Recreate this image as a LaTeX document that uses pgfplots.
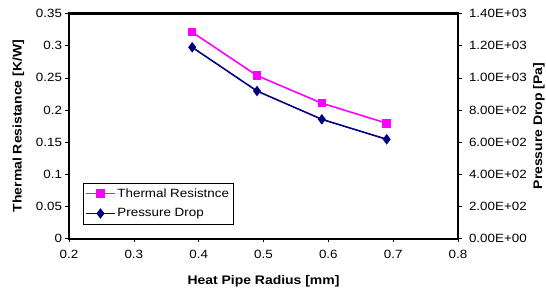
\documentclass[border=0pt]{standalone}
\usepackage{pgfplots}
\pgfplotsset{compat=1.18}
\usepackage{fontspec}
\setmainfont[FakeStretch=1.12]{Liberation Sans}
\definecolor{pinkc}{RGB}{255,0,255}
\definecolor{navyc}{RGB}{0,0,128}
\begin{document}
\begin{tikzpicture}
\pgfplotsset{
  every axis/.append style={
    scale only axis, width=389bp, height=225.2bp,
    font=\fontsize{12}{14}\selectfont,
    tick align=outside, major tick length=3.5bp,
    tick style={line width=0.6bp, black},
    axis line style={line width=2.2bp, black},
    xmin=0.2, xmax=0.8,
  },
  /pgfplots/legend image code/.code={\draw[mark repeat=2,mark phase=2,#1] plot coordinates {(0cm,0cm)(0.5cm,0cm)(1.0cm,0cm)};}
}
\begin{axis}[name=ax,
  ymin=0, ymax=0.35,
  xtick={0.2,0.3,0.4,0.5,0.6,0.7,0.8},
  xticklabels={0.2,0.3,0.4,0.5,0.6,0.7,0.8},
  ytick={0,0.05,0.1,0.15,0.2,0.25,0.3,0.35},
  yticklabels={0,0.05,0.1,0.15,0.2,0.25,0.3,0.35},
  xticklabel style={yshift=-4bp},
  xtick pos=bottom, ytick pos=left,
  xlabel={\fontsize{12.5}{14}\selectfont\bfseries Heat Pipe Radius [mm]},
  ylabel={\fontsize{12.5}{14}\selectfont\bfseries Thermal Resistance [K/W]},
  xlabel style={at={(axis description cs:0.5,0)}, anchor=center, yshift=-42.3bp},
  ylabel style={at={(axis description cs:-0.1298,0.5)}, anchor=center},
  legend style={at={(axis description cs:0.0352,0.2487)}, anchor=north west,
    draw=black, line width=0.6bp, font=\fontsize{12}{14}\selectfont,
    row sep=6bp, inner xsep=2.5bp, inner ysep=3.5bp},
  legend cell align=left,
]
\addplot[pinkc, line width=1.6bp, mark=square*, mark size=3.5bp, mark options={solid}]
  coordinates {(0.39,0.321) (0.49,0.2535) (0.59,0.2106) (0.69,0.1795)};
\addlegendentry{Thermal Resistnce}
\addlegendimage{navyc, line width=1.6bp, mark=diamond*, mark size=4bp}
\addlegendentry{Pressure Drop}
\end{axis}
\begin{axis}[
  ymin=0, ymax=1400,
  axis x line=none, axis y line*=right,
  ytick={0,200,400,600,800,1000,1200,1400},
  yticklabels={0.00E+00,2.00E+02,4.00E+02,6.00E+02,8.00E+02,1.00E+03,1.20E+03,1.40E+03},
  yticklabel style={xshift=4bp},
  ylabel={\fontsize{12.5}{14}\selectfont\bfseries Pressure Drop [Pa]},
  ylabel style={at={(axis description cs:1.2082,0.5)}, anchor=center},
]
\addplot[navyc, line width=1.6bp, mark=diamond*, mark size=4bp]
  coordinates {(0.39,1190) (0.49,918) (0.59,742) (0.69,618)};
\end{axis}
\pgfresetboundingbox
\path[use as bounding box] ([shift={(-69bp,-50.3bp)}]ax.south west) rectangle ++(546bp,289bp);
\end{tikzpicture}
\end{document}
